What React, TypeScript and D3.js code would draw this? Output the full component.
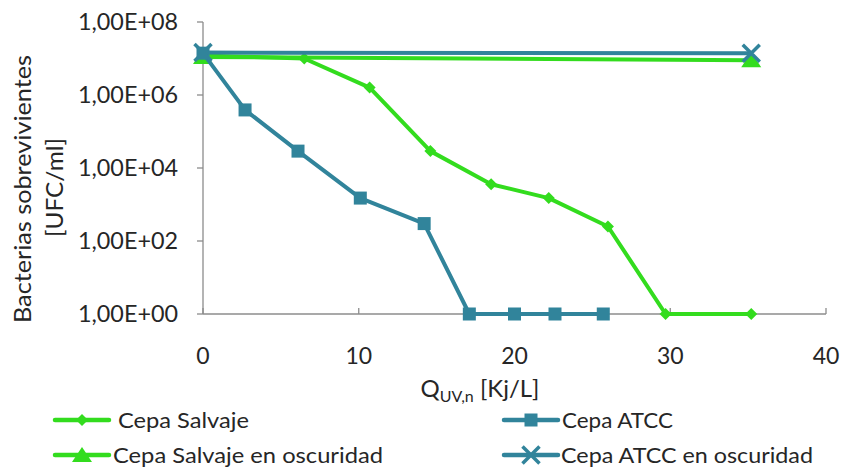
import React from "react";
import * as d3 from "d3";

const salvajeX = [0, 6.5, 10.7, 14.6, 18.5, 22.2, 26.0, 29.7, 35.2];
const salvajeY = [1.2e7, 1.0e7, 1.6e6, 2.9e4, 3.6e3, 1.5e3, 2.5e2, 1, 1];
const atccX = [0, 2.7, 6.1, 10.1, 14.2, 17.1, 20.0, 22.6, 25.7];
const atccY = [1.4e7, 3.9e5, 2.9e4, 1.5e3, 3.0e2, 1, 1, 1, 1];
const salvajeOscX = [0, 35.2];
const salvajeOscY = [1.1e7, 9.0e6];
const atccOscX = [0, 35.2];
const atccOscY = [1.45e7, 1.4e7];
const xTicks = [0, 10, 20, 30, 40];
const yTicks = [1, 1e2, 1e4, 1e6, 1e8];
const yTickLabels = ["1,00E+00", "1,00E+02", "1,00E+04", "1,00E+06", "1,00E+08"];
const seriesNames = ["Cepa Salvaje", "Cepa ATCC", "Cepa Salvaje en oscuridad", "Cepa ATCC en oscuridad"];

const GREEN = "#33dc1e";
const TEAL = "#31849b";
const AXIS = "#8c8c8c";
const TEXT = "#262626";
const FONT = "Lato, 'Open Sans', sans-serif";

function Marker({ type, x, y, color }: { type: string; x: number; y: number; color: string }) {
  if (type === "diamond") {
    const s = 6;
    return <path d={`M${x},${y - s}L${x + s},${y}L${x},${y + s}L${x - s},${y}Z`} fill={color} />;
  }
  if (type === "square") {
    const s = 6.5;
    return <rect x={x - s} y={y - s} width={2 * s} height={2 * s} fill={color} />;
  }
  if (type === "triangle") {
    return <path d={`M${x},${y - 8}L${x + 10},${y + 7}L${x - 10},${y + 7}Z`} fill={color} />;
  }
  const s = 8.5;
  return (
    <path d={`M${x - s},${y - s}L${x + s},${y + s}M${x + s},${y - s}L${x - s},${y + s}`} stroke={color} strokeWidth={3.5} fill="none" />
  );
}

export default function App() {
  const W = 843, H = 468;
  const x = d3.scaleLinear().domain([0, 40]).range([203, 826]);
  const y = d3.scaleLog().domain([1, 1e8]).range([314, 22]);
  const line = d3.line<[number, number]>().x(d => x(d[0])).y(d => y(d[1]));

  const series = [
    { xs: salvajeOscX, ys: salvajeOscY, color: GREEN, marker: "triangle" },
    { xs: salvajeX, ys: salvajeY, color: GREEN, marker: "diamond" },
    { xs: atccX, ys: atccY, color: TEAL, marker: "square" },
    { xs: atccOscX, ys: atccOscY, color: TEAL, marker: "x" },
  ];

  const legend = [
    { name: seriesNames[0], color: GREEN, marker: "diamond", lx: 55, ly: 420, tx: 118, tl: 131 },
    { name: seriesNames[1], color: TEAL, marker: "square", lx: 504, ly: 420, tx: 562, tl: 111 },
    { name: seriesNames[2], color: GREEN, marker: "triangle", lx: 55, ly: 455, tx: 113, tl: 270 },
    { name: seriesNames[3], color: TEAL, marker: "x", lx: 504, ly: 455, tx: 561, tl: 252 },
  ];

  return (
    <svg width={W} height={H} style={{ display: "block", position: "absolute", left: 0, top: 0 }} fontFamily={FONT}>
      <rect width={W} height={H} fill="#fff" />
      {/* axes */}
      <line x1={x(0)} x2={x(0)} y1={y(1e8)} y2={y(1)} stroke={AXIS} strokeWidth={1.3} />
      <line x1={x(0)} x2={x(40)} y1={y(1)} y2={y(1)} stroke={AXIS} strokeWidth={1.3} />
      {yTicks.map((t, i) => (
        <g key={i}>
          <line x1={x(0) - 6} x2={x(0)} y1={y(t)} y2={y(t)} stroke={AXIS} strokeWidth={1.3} />
          <text x={78} y={y(t)} dy="0.36em" fontSize={23} textLength={100} lengthAdjust="spacingAndGlyphs" fill={TEXT}>{yTickLabels[i]}</text>
        </g>
      ))}
      {xTicks.map((t, i) => (
        <g key={i}>
          <line x1={x(t)} x2={x(t)} y1={y(1) - 6} y2={y(1)} stroke={AXIS} strokeWidth={1.3} />
          <text x={x(t)} y={364} textAnchor="middle" fontSize={23} fill={TEXT}>{t}</text>
        </g>
      ))}
      {/* axis titles */}
      <text transform="translate(31,323) rotate(-90)" fontSize={24} textLength={268} lengthAdjust="spacingAndGlyphs" fill={TEXT}>Bacterias sobrevivientes</text>
      <text transform="translate(63,237) rotate(-90)" fontSize={24} textLength={99} lengthAdjust="spacingAndGlyphs" fill={TEXT}>[UFC/ml]</text>
      <text x={480} y={397} textAnchor="middle" fontSize={24} fill={TEXT}>
        Q<tspan fontSize={16} dy={5}>UV,n</tspan><tspan dy={-5}> [Kj/L]</tspan>
      </text>
      {/* series */}
      {series.map((s, i) => {
        const pts: [number, number][] = s.xs.map((v, j) => [v, s.ys[j]]);
        return (
          <g key={i}>
            <path d={line(pts) || ""} fill="none" stroke={s.color} strokeWidth={4} strokeLinejoin="round" />
            {pts.map((p, j) => (
              <Marker key={j} type={s.marker} x={x(p[0])} y={y(p[1])} color={s.color} />
            ))}
          </g>
        );
      })}
      {/* legend */}
      {legend.map((l, i) => (
        <g key={i}>
          <line x1={l.lx} x2={l.lx + 54} y1={l.ly} y2={l.ly} stroke={l.color} strokeWidth={4.5} strokeLinecap="round" />
          <Marker type={l.marker} x={l.lx + 27} y={l.ly} color={l.color} />
          <text x={l.tx} y={l.ly} dy="0.36em" fontSize={22} textLength={l.tl} lengthAdjust="spacingAndGlyphs" fill={TEXT}>{l.name}</text>
        </g>
      ))}
    </svg>
  );
}
